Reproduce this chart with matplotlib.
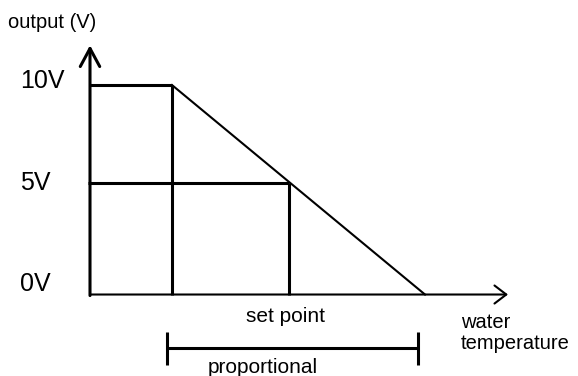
import matplotlib
matplotlib.use('Agg')
import matplotlib.pyplot as plt

plt.rcParams['font.family'] = ['Liberation Sans', 'DejaVu Sans']

# diagram data (x: water temperature, arbitrary units; y: output in V)
band_start = 8.2       # where output starts dropping from 10V
set_point = 19.9       # temperature at the 5V level
band_end = 33.5        # where output reaches 0V
out_high = 10
out_mid = 5.34
out_low = 0
prop_band = [7.7, 32.8]  # bracket marking the proportional band
x_axis_end = 41.8
y_axis_end = 11.9

tick_labels = ['10V', '5V', '0V']
tick_pos = [out_high + 0.2, out_mid, out_low + 0.5]

lw_thick = 2.2
lw_thin = 1.5

fig = plt.figure(figsize=(5.78, 3.76), dpi=100)
ax = fig.add_axes([0, 0, 1, 1])
ax.set_xlim(-9, 48.8)
ax.set_ylim(-3.89, 14.06)
ax.axis('off')

# axes with open arrow heads
ax.annotate('', xy=(0, y_axis_end), xytext=(0, out_low - 0.05),
            arrowprops=dict(arrowstyle='->,head_length=13,head_width=7', mutation_scale=1,
                            lw=lw_thick, color='black', shrinkA=0, shrinkB=0))
ax.annotate('', xy=(x_axis_end, out_low), xytext=(0, out_low),
            arrowprops=dict(arrowstyle='->,head_length=8.5,head_width=6.5', mutation_scale=1,
                            lw=lw_thin, color='black', shrinkA=0, shrinkB=0))

# output levels and guides
ax.plot([0, band_start], [out_high, out_high], color='black', lw=lw_thick, solid_capstyle='butt')
ax.plot([band_start, band_start], [out_low, out_high], color='black', lw=lw_thick, solid_capstyle='butt')
ax.plot([-0.2, set_point], [out_mid, out_mid], color='black', lw=lw_thick, solid_capstyle='butt')
ax.plot([set_point, set_point], [out_low, out_mid], color='black', lw=lw_thick, solid_capstyle='butt')

# proportional ramp
ax.plot([band_start, band_end], [out_high, out_low], color='black', lw=lw_thin)

# proportional band bracket
br_y = -2.55
ax.plot(prop_band, [br_y, br_y], color='black', lw=lw_thick, solid_capstyle='butt')
for xb in prop_band:
    ax.plot([xb, xb], [br_y + 0.76, br_y - 0.82], color='black', lw=lw_thick, solid_capstyle='butt')

# labels
for lab, yp in zip(tick_labels, tick_pos):
    ax.text(-7.0, yp, lab, fontsize=18, ha='left', va='center')
ax.text(-8.2, 13.0, 'output (V)', fontsize=14.5, ha='left', va='center')
ax.text(set_point - 0.4, -1.07, 'set point', fontsize=15, ha='center', va='center')
ax.text(37.1, -1.85, 'water\ntemperature', fontsize=14.5, ha='left', va='center',
        linespacing=1.15)
ax.text(17.3, -3.5, 'proportional', fontsize=15, ha='center', va='center')

fig.savefig('out.png', dpi=100)
